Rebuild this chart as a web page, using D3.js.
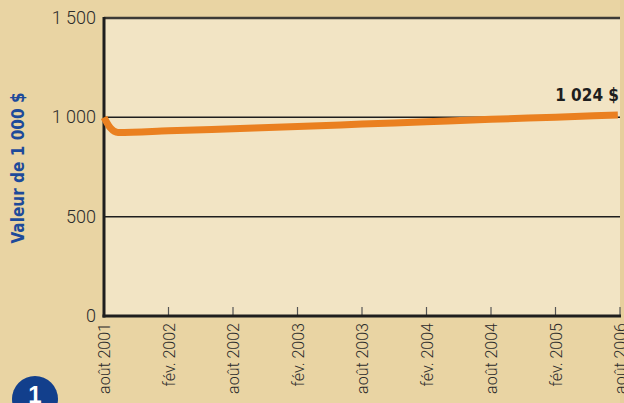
<!DOCTYPE html>
<html>
<head>
<meta charset="utf-8">
<script src="https://d3js.org/d3.v7.min.js"></script>
<style>
body { margin: 0; background: #e9d4a3; }
svg { display: block; }
text { font-family: 'Liberation Sans Narrow', 'DejaVu Sans Condensed', 'DejaVu Sans', sans-serif; font-stretch: condensed; }
text.tick { font-family: Roboto, 'Open Sans', sans-serif; font-weight: 300; font-stretch: normal; }
</style>
</head>
<body>
<div id="chart"></div>
<script>
  // tick labels along the bottom (one every 6 months)
  var tickLabels = ["août 2001", "fév. 2002", "août 2002", "fév. 2003", "août 2003",
                    "fév. 2004", "août 2004", "fév. 2005", "août 2006"];
  // months since août 2001 and value of the 1 000 $ investment
  var months = [0, 0.6, 1.3, 6, 12, 18, 24, 30, 36, 42, 47.8];
  var values = [1000, 946, 924, 932, 943, 954, 966, 978, 990, 1001, 1012];
  var yTicks = [0, 500, 1000, 1500];
  var endLabel = "1 024 $";
  var yTitle = "Valeur de 1 000 $";

  var width = 624, height = 403;
  var mLeft = 104, mRight = 620, mTop = 18, mBottom = 316;

  var svg = d3.select("#chart").append("svg")
    .attr("width", width)
    .attr("height", height);

  svg.append("rect").attr("width", width).attr("height", height).attr("fill", "#e9d4a3");
  svg.append("rect").attr("x", mRight).attr("width", width - mRight).attr("height", height).attr("fill", "#e6cf9c");

  var x = d3.scaleLinear().domain([0, 48]).range([mLeft, mRight]);
  var y = d3.scaleLinear().domain([0, 1500]).range([mBottom, mTop]);

  // plot background
  svg.append("rect")
    .attr("x", mLeft).attr("y", mTop)
    .attr("width", mRight - mLeft).attr("height", mBottom - mTop)
    .attr("fill", "#f2e4c4");

  // horizontal grid lines
  svg.selectAll(".grid")
    .data([500, 1000]).enter().append("line")
    .attr("x1", mLeft).attr("x2", mRight)
    .attr("y1", function(d) { return y(d); })
    .attr("y2", function(d) { return y(d); })
    .attr("stroke", "#1e1e1e").attr("stroke-width", 1.5);

  // top border
  svg.append("line")
    .attr("x1", mLeft).attr("x2", mRight)
    .attr("y1", y(1500)).attr("y2", y(1500))
    .attr("stroke", "#3c3a36").attr("stroke-width", 2.5);

  // x ticks
  var tickMonths = tickLabels.map(function(d, i) { return i * 6; });
  svg.selectAll(".xtick")
    .data(tickMonths).enter().append("line")
    .attr("x1", function(d) { return x(d); })
    .attr("x2", function(d) { return x(d); })
    .attr("y1", mBottom).attr("y2", mBottom - 9)
    .attr("stroke", "#555").attr("stroke-width", 1.2);

  svg.selectAll(".xlab")
    .data(tickLabels).enter().append("text")
    .attr("class", "tick")
    .attr("transform", function(d, i) { return "translate(" + (x(i * 6) + 6) + "," + (mBottom + 7) + ") rotate(-90)"; })
    .attr("text-anchor", "end")
    .attr("font-size", 16)
    .attr("fill", "#2b2b2b")
    .text(function(d) { return d; });

  // y tick labels
  svg.selectAll(".ylab")
    .data(yTicks).enter().append("text")
    .attr("class", "tick")
    .attr("x", 96)
    .attr("y", function(d) { return y(d) + 6; })
    .attr("text-anchor", "end")
    .attr("font-size", 18)
    .attr("fill", "#2b2b2b")
    .text(function(d) { return d3.format(",")(d).replace(",", " "); });

  // axes lines
  svg.append("line")
    .attr("x1", mLeft).attr("x2", mLeft)
    .attr("y1", mTop - 1).attr("y2", mBottom + 1.5)
    .attr("stroke", "#1e1e1e").attr("stroke-width", 3);
  svg.append("line")
    .attr("x1", mLeft - 1.5).attr("x2", mRight + 1)
    .attr("y1", mBottom).attr("y2", mBottom)
    .attr("stroke", "#1e1e1e").attr("stroke-width", 3);

  // series
  var data = months.map(function(m, i) { return {m: m, v: values[i]}; });
  var line = d3.line()
    .x(function(d) { return x(d.m); })
    .y(function(d) { return y(d.v); })
    .curve(d3.curveMonotoneX);
  svg.append("path")
    .datum(data)
    .attr("d", line)
    .attr("fill", "none")
    .attr("stroke", "#ea8020")
    .attr("stroke-width", 7);

  svg.append("text")
    .attr("x", 619).attr("y", 101)
    .attr("text-anchor", "end")
    .attr("font-weight", "bold")
    .attr("font-size", 17)
    .attr("fill", "#1e1e1e")
    .text(endLabel);

  // y title
  svg.append("text")
    .attr("transform", "translate(24," + 168 + ") rotate(-90)")
    .attr("text-anchor", "middle")
    .attr("font-weight", "bold")
    .attr("font-size", 17)
    .attr("fill", "#1d4a9a")
    .text(yTitle);

  // badge
  svg.append("circle").attr("cx", 35).attr("cy", 399).attr("r", 23).attr("fill", "#123f8c");
  svg.append("text")
    .attr("x", 35).attr("y", 403)
    .attr("text-anchor", "middle")
    .style("font-family", "'Liberation Sans', sans-serif")
    .style("font-stretch", "normal")
    .attr("font-weight", "bold")
    .attr("font-size", 24)
    .attr("fill", "#fff")
    .text("1");
</script>
</body>
</html>
